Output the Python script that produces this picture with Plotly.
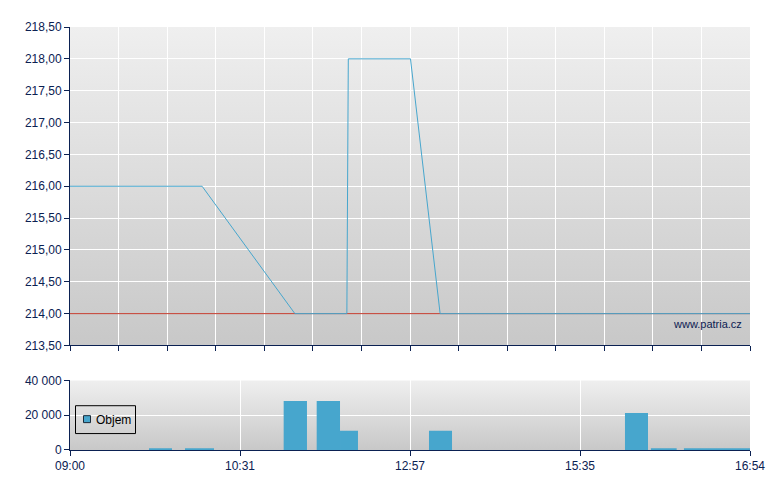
import base64
import plotly.graph_objects as go

# ---- data (x in chart slot units 0..14) ----
price_x = [0, 2.72, 4.63, 5.70, 5.73, 7.01, 7.62, 14]
price_y = [216, 216, 214, 214, 218, 218, 214, 214]
ref_x = [0, 14]
ref_y = [214, 214]

vol_x = [1.863, 2.666, 4.639, 5.319, 5.744, 7.628, 11.663, 12.225, 13.32]
vol_y = [600, 600, 28200, 28200, 11000, 11000, 21300, 600, 600]
vol_w = [0.474, 0.597, 0.48, 0.48, 0.37, 0.474, 0.474, 0.53, 1.36]

x_tickvals = [0, 3.5, 7, 10.5, 14]
x_ticktext = ["09:00", "10:31", "12:57", "15:35", "16:54"]

NAVY = "#0b2152"
BLUE = "#47a6cd"
RED = "#c0392b"
FONT = "Liberation Sans, Arial, sans-serif"

fig = go.Figure()
fig.add_trace(go.Scatter(x=ref_x, y=ref_y, mode="lines", line=dict(color=RED, width=1),
                         showlegend=False, xaxis="x", yaxis="y", hoverinfo="skip"))
fig.add_trace(go.Scatter(x=price_x, y=price_y, mode="lines", line=dict(color=BLUE, width=1),
                         showlegend=False, xaxis="x", yaxis="y"))
fig.add_trace(go.Bar(x=vol_x, y=vol_y, width=vol_w, name="Objem", showlegend=False,
                     marker=dict(color=BLUE, line=dict(width=0)),
                     xaxis="x2", yaxis="y2"))

# pixel helpers: plot area spans x 70..750, y 25..450 in the page
def px(xp):
    return (xp - 70) / 680.0
def py(yp):
    return (450 - yp) / 425.0

svg = ('<svg xmlns="http://www.w3.org/2000/svg" width="10" height="100" viewBox="0 0 10 100" '
       'preserveAspectRatio="none"><defs><linearGradient id="g" x1="0" y1="0" x2="0" y2="1">'
       '<stop offset="0" stop-color="#efefef"/><stop offset="1" stop-color="#c8c8c8"/>'
       '</linearGradient></defs><rect width="10" height="100" fill="url(#g)"/></svg>')
src = "data:image/svg+xml;base64," + base64.b64encode(svg.encode()).decode()

top_dom = [py(345), 1.0]
bot_dom = [0.0, py(380)]

images = [
    dict(source=src, xref="paper", yref="paper", x=0, y=top_dom[1], sizex=1,
         sizey=top_dom[1] - top_dom[0], sizing="stretch", xanchor="left", yanchor="top",
         layer="below"),
    dict(source=src, xref="paper", yref="paper", x=0, y=bot_dom[1], sizex=1,
         sizey=bot_dom[1] - bot_dom[0], sizing="stretch", xanchor="left", yanchor="top",
         layer="below"),
]

# manual legend box
shapes = [
    dict(type="rect", xref="paper", yref="paper", x0=px(75.5), x1=px(135.5), y0=py(433.5), y1=py(405.5),
         line=dict(color="black", width=1), fillcolor="rgba(0,0,0,0)", layer="above"),
    dict(type="rect", xref="paper", yref="paper", x0=px(83.5), x1=px(90.5), y0=py(422.5), y1=py(415.5),
         line=dict(color="#1a2a3a", width=1), fillcolor=BLUE, layer="above"),
]

axis_font = dict(family=FONT, size=12, color=NAVY)
common = dict(showgrid=True, gridcolor="white", gridwidth=1, zeroline=False,
              showline=True, linecolor=NAVY, linewidth=1, ticks="outside", ticklen=5,
              tickcolor=NAVY, tickfont=axis_font)

fig.update_layout(
    width=772, height=482,
    margin=dict(l=62, r=30, t=17, b=40),
    paper_bgcolor="white",
    plot_bgcolor="rgba(0,0,0,0)",
    separators=", ",
    font=axis_font,
    images=images,
    shapes=shapes,
    showlegend=False,
    xaxis=dict(domain=[0, 1], range=[0, 14], tickvals=list(range(15)), showticklabels=False,
               anchor="y", **common),
    yaxis=dict(domain=top_dom, range=[213.5, 218.5], dtick=0.5, tick0=213.5, tickformat=".2f",
               anchor="x", **common),
    xaxis2=dict(domain=[0, 1], range=[0, 14], tickvals=x_tickvals, ticktext=x_ticktext,
                anchor="y2", **common),
    yaxis2=dict(domain=bot_dom, range=[0, 40000], dtick=20000, tickformat=",d",
                anchor="x2", **common),
    annotations=[
        dict(text="www.patria.cz", xref="paper", yref="paper", x=px(744), y=py(323),
             xanchor="right", yanchor="middle", showarrow=False,
             font=dict(family=FONT, size=11, color=NAVY)),
        dict(text="Objem", xref="paper", yref="paper", x=px(94), y=py(420),
             xanchor="left", yanchor="middle", showarrow=False,
             font=dict(family=FONT, size=12, color="black")),
    ],
)

fig.write_html("out.html")
